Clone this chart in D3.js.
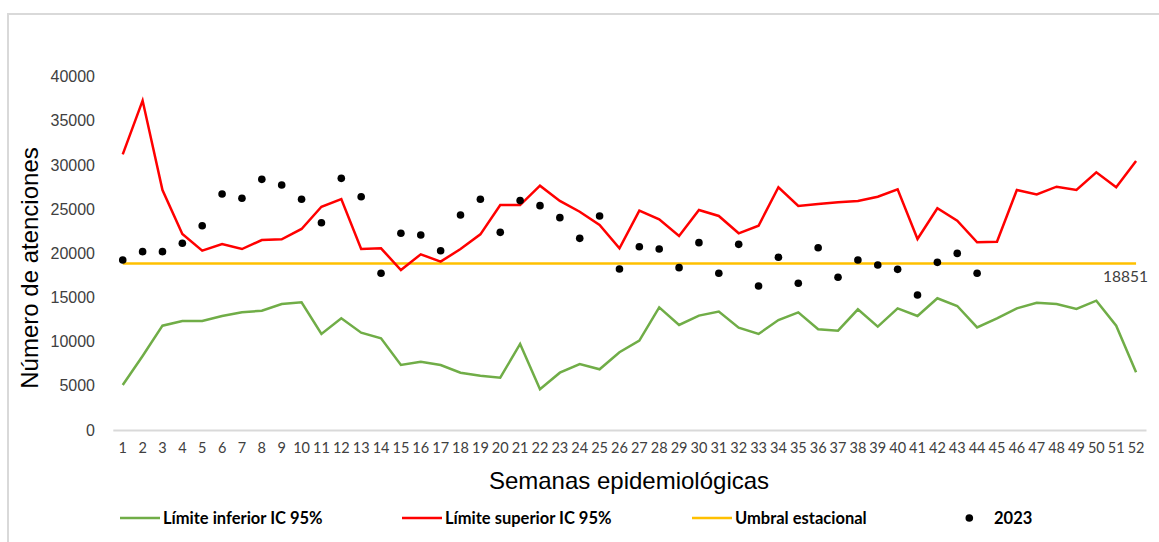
<!DOCTYPE html>
<html>
<head>
<meta charset="utf-8">
<title>Canal endémico 2023</title>
<script src="https://d3js.org/d3.v7.min.js"></script>
<style>
  body { margin: 0; background: #fff; }
  svg { display: block; }
</style>
</head>
<body>
<div id="chart"></div>
<script>
// weeks 1..52
var semanas = d3.range(1, 53);

var limiteInferior = [
  5090, 8380, 11810, 12340, 12340, 12910, 13320, 13510, 14270, 14460,
  10870, 12640, 11020, 10380, 7360, 7730, 7360, 6490, 6150, 5920,
  9740, 4610, 6490, 7470, 6870, 8800, 10110, 13890, 11890, 12950,
  13400, 11580, 10870, 12450, 13320, 11400, 11240, 13660, 11700, 13770,
  12910, 14910, 14040, 11620, 12640, 13770, 14410, 14270, 13700, 14640,
  11810, 6530
];

var limiteSuperior = [
  31200, 37300, 27170, 22190, 20300, 21060, 20490, 21510, 21590, 22760,
  25280, 26150, 20490, 20570, 18110, 19890, 19060, 20490, 22150, 25470,
  25470, 27660, 25930, 24710, 23210, 20570, 24830, 23850, 21960, 24910,
  24230, 22270, 23130, 27480, 25360, 25590, 25780, 25930, 26410, 27250,
  21620, 25100, 23700, 21250, 21320, 27170, 26680, 27550, 27170, 29170,
  27480, 30450
];

var umbral = 18851;

// 2023 only up to week 44
var casos2023 = [
  19250, 20190, 20190, 21140, 23130, 26720, 26230, 28380, 27740, 26120,
  23470, 28490, 26410, 17740, 22270, 22080, 20300, 24340, 26120, 22380,
  25970, 25400, 24040, 21700, 24230, 18230, 20750, 20490, 18380, 21210,
  17740, 21020, 16300, 19550, 16610, 20640, 17290, 19250, 18680, 18190,
  15280, 18980, 20000, 17740
];

var yTicks = [0, 5000, 10000, 15000, 20000, 25000, 30000, 35000, 40000];

var W = 1159, H = 542;
var svg = d3.select("#chart").append("svg")
  .attr("width", W).attr("height", H);

// light frame (only top & left visible in the crop)
svg.append("path")
  .attr("d", "M8,600 V14 H1200")
  .attr("fill", "none")
  .attr("stroke", "#d9d9d9")
  .attr("stroke-width", 2);

var x = d3.scaleBand().domain(semanas).range([112.8, 1146]).padding(0);
var cx = function(w) { return x(w) + x.bandwidth() / 2; };
var y = d3.scaleLinear().domain([0, 40000]).range([430, 76.7]);

// y axis labels (no line)
var yAxis = svg.append("g")
  .attr("transform", "translate(95,0)")
  .call(d3.axisLeft(y).tickValues(yTicks).tickSize(0).tickPadding(0).tickFormat(d3.format("d")));
yAxis.select(".domain").remove();
yAxis.selectAll("text")
  .attr("font-family", "'Liberation Sans', Arial, sans-serif")
  .attr("font-size", 16)
  .attr("fill", "#404040");

// x axis
var xAxis = svg.append("g")
  .attr("transform", "translate(0,430)")
  .call(d3.axisBottom(x).tickSize(0).tickPadding(13));
xAxis.select(".domain").attr("stroke", "#d9d9d9").attr("stroke-width", 2);
xAxis.selectAll("text")
  .attr("font-family", "Lato, 'Open Sans', sans-serif")
  .attr("font-size", 14.5)
  .attr("fill", "#404040");

// titles
svg.append("text")
  .attr("transform", "translate(38,268) rotate(-90)")
  .attr("text-anchor", "middle")
  .attr("font-family", "'Liberation Sans', Arial, sans-serif")
  .attr("font-size", 24)
  .attr("fill", "#000")
  .text("Número de atenciones");

svg.append("text")
  .attr("x", 629).attr("y", 489)
  .attr("text-anchor", "middle")
  .attr("font-family", "'Liberation Sans', Arial, sans-serif")
  .attr("font-size", 24)
  .attr("fill", "#000")
  .text("Semanas epidemiológicas");

var line = d3.line()
  .x(function(d, i) { return cx(semanas[i]); })
  .y(function(d) { return y(d); });

// threshold
svg.append("line")
  .attr("x1", cx(1)).attr("x2", cx(52))
  .attr("y1", y(umbral)).attr("y2", y(umbral))
  .attr("stroke", "#FFC000").attr("stroke-width", 2.5);

svg.append("path")
  .datum(limiteInferior)
  .attr("d", line)
  .attr("fill", "none")
  .attr("stroke", "#70AD47")
  .attr("stroke-width", 2.5);

svg.append("path")
  .datum(limiteSuperior)
  .attr("d", line)
  .attr("fill", "none")
  .attr("stroke", "#FF0000")
  .attr("stroke-width", 2.5);

svg.append("g").selectAll("circle")
  .data(casos2023)
  .enter().append("circle")
  .attr("cx", function(d, i) { return cx(semanas[i]); })
  .attr("cy", function(d) { return y(d); })
  .attr("r", 3.8)
  .attr("fill", "#000");

svg.append("text")
  .attr("x", 1148).attr("y", y(umbral) + 18.5)
  .attr("text-anchor", "end")
  .attr("font-family", "Lato, 'Open Sans', sans-serif")
  .attr("font-size", 15.5)
  .attr("fill", "#404040")
  .text(umbral);

// legend
var legend = [
  { label: "Límite inferior IC 95%", color: "#70AD47", type: "line", x: 120 },
  { label: "Límite superior IC 95%", color: "#FF0000", type: "line", x: 402 },
  { label: "Umbral estacional", color: "#FFC000", type: "line", x: 692 },
  { label: "2023", color: "#000", type: "dot", x: 958 }
];
var lg = svg.append("g").selectAll("g")
  .data(legend).enter().append("g")
  .attr("transform", function(d) { return "translate(" + d.x + ",518)"; });
lg.filter(function(d) { return d.type === "line"; })
  .append("line")
  .attr("x1", 0).attr("x2", 40)
  .attr("stroke", function(d) { return d.color; })
  .attr("stroke-width", 2.5);
lg.filter(function(d) { return d.type === "dot"; })
  .append("circle")
  .attr("cx", 11.3).attr("r", 3.8)
  .attr("fill", "#000");
lg.append("text")
  .attr("x", function(d) { return d.type === "dot" ? 36 : 43; })
  .attr("dy", "0.36em")
  .attr("font-family", "Lato, 'Open Sans', sans-serif")
  .attr("font-weight", "bold")
  .attr("font-size", 16.5)
  .attr("fill", "#000")
  .text(function(d) { return d.label; });
</script>
</body>
</html>
